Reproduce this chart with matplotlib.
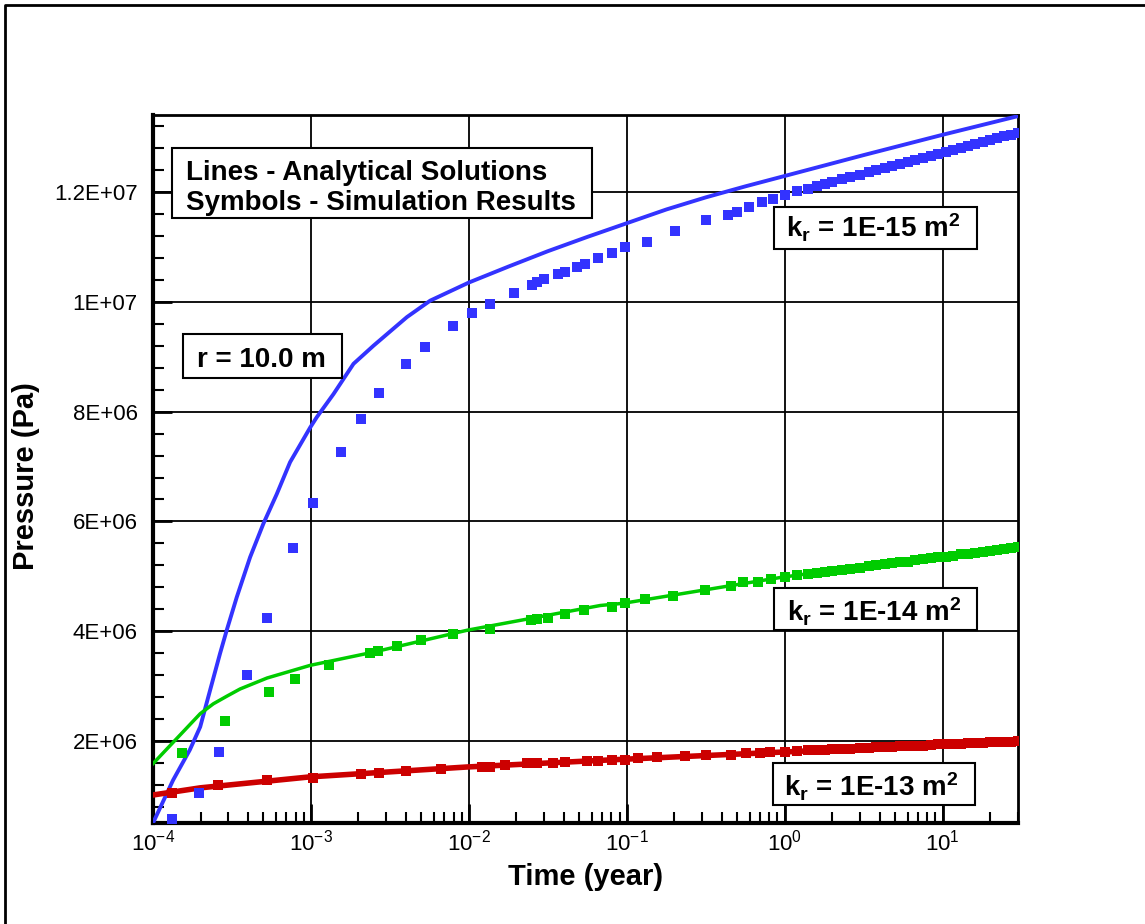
import matplotlib
matplotlib.use("Agg")
import matplotlib.pyplot as plt
from matplotlib.lines import Line2D
from matplotlib.patches import Rectangle
from matplotlib.ticker import LogLocator, MultipleLocator, NullFormatter

plt.rcParams['font.family'] = ['Liberation Sans', 'DejaVu Sans']
plt.rcParams['mathtext.fontset'] = 'custom'
plt.rcParams['mathtext.rm'] = 'Liberation Sans'
plt.rcParams['mathtext.bf'] = 'Liberation Sans:bold'
plt.rcParams['mathtext.default'] = 'regular'

BLUE = '#3333ff'
GREEN = '#00cc00'
RED = '#cc0000'

# analytical solutions (lines)
t_line_15 = [1e-4, 1.34e-4, 1.71e-4, 1.99e-4, 2.30e-4, 2.66e-4, 2.93e-4, 3.39e-4, 4.12e-4,
             5.00e-4, 6.08e-4, 7.38e-4, 9.89e-4, 1.09e-3, 1.39e-3, 1.86e-3, 2.49e-3, 3.03e-3,
             4.05e-3, 5.69e-3, 1e-2, 1.78e-2, 3.16e-2, 5.62e-2, 0.1, 0.178, 0.316, 0.562,
             1.0, 3.16, 10, 30]
p_line_15 = [0.51e6, 1.29e6, 1.84e6, 2.26e6, 2.93e6, 3.60e6, 4.02e6, 4.62e6, 5.35e6,
             5.96e6, 6.50e6, 7.08e6, 7.71e6, 7.90e6, 8.32e6, 8.87e6, 9.20e6, 9.41e6,
             9.72e6, 10.02e6, 10.35e6, 10.64e6, 10.92e6, 11.18e6, 11.43e6, 11.68e6, 11.90e6, 12.10e6,
             12.29e6, 12.67e6, 13.04e6, 13.38e6]

t_line_14 = [1e-4, 1.99e-4, 2.41e-4, 2.94e-4, 3.56e-4, 5.28e-4, 9.89e-4, 2.48e-3, 9.77e-3,
             6.8e-2, 9.5e-2, 0.94, 9.7, 30]
p_line_14 = [1.59e6, 2.50e6, 2.68e6, 2.82e6, 2.95e6, 3.15e6, 3.38e6, 3.62e6, 4.02e6,
             4.47e6, 4.51e6, 4.98e6, 5.38e6, 5.53e6]

t_line_13 = [1e-4, 1.99e-4, 9.89e-4, 9.77e-3, 6.8e-2, 9.5e-2, 0.94, 9.7, 30]
p_line_13 = [1.02e6, 1.15e6, 1.35e6, 1.53e6, 1.65e6, 1.67e6, 1.80e6, 1.93e6, 1.98e6]

# simulation results (symbols)
t_late = [1.0, 1.2, 1.4, 1.6, 1.8, 2.0, 2.3, 2.6, 3.0, 3.4, 3.8, 4.3, 4.8, 5.4, 6.0,
          6.7, 7.5, 8.4, 9.4, 10.5, 11.7, 13, 14.5, 16, 18, 20, 22, 24.5, 27, 30]

t_sim_15 = [1.32e-4, 1.96e-4, 2.62e-4, 3.94e-4, 5.28e-4, 7.71e-4, 1.03e-3, 1.55e-3,
            2.08e-3, 2.70e-3, 4.01e-3, 5.29e-3, 7.97e-3, 1.05e-2, 1.37e-2, 1.94e-2,
            2.52e-2, 2.71e-2, 3.00e-2, 3.69e-2, 4.08e-2, 4.86e-2, 5.47e-2, 6.61e-2,
            8.10e-2, 9.80e-2, 0.135, 0.203, 0.319, 0.440, 0.502, 0.590, 0.723, 0.849] + t_late
p_sim_15 = [0.58e6, 1.05e6, 1.80e6, 3.20e6, 4.24e6, 5.51e6, 6.33e6, 7.27e6,
            7.87e6, 8.33e6, 8.87e6, 9.18e6, 9.55e6, 9.80e6, 9.96e6, 10.16e6,
            10.31e6, 10.36e6, 10.42e6, 10.51e6, 10.55e6, 10.64e6, 10.69e6, 10.80e6,
            10.89e6, 11.00e6, 11.09e6, 11.29e6, 11.49e6, 11.58e6, 11.64e6, 11.73e6, 11.82e6, 11.87e6,
            11.95e6, 12.01e6, 12.06e6, 12.11e6, 12.14e6, 12.18e6, 12.23e6, 12.27e6, 12.31e6, 12.36e6,
            12.39e6, 12.43e6, 12.47e6, 12.51e6, 12.54e6, 12.58e6, 12.62e6, 12.66e6, 12.69e6, 12.73e6,
            12.77e6, 12.80e6, 12.84e6, 12.87e6, 12.91e6, 12.94e6, 12.98e6, 13.01e6, 13.04e6, 13.08e6]

t_sim_14 = [1.53e-4, 2.86e-4, 5.43e-4, 7.94e-4, 1.30e-3, 2.37e-3, 2.67e-3, 3.52e-3,
            4.99e-3, 7.97e-3, 1.37e-2, 2.49e-2, 2.71e-2, 3.18e-2, 4.08e-2, 5.38e-2,
            8.1e-2, 9.8e-2, 0.131, 0.197, 0.315, 0.454, 0.548, 0.682, 0.813] + t_late
p_sim_14 = [1.78e6, 2.36e6, 2.89e6, 3.13e6, 3.38e6, 3.60e6, 3.65e6, 3.73e6,
            3.84e6, 3.95e6, 4.05e6, 4.20e6, 4.22e6, 4.25e6, 4.31e6, 4.38e6,
            4.45e6, 4.51e6, 4.58e6, 4.65e6, 4.75e6, 4.82e6, 4.89e6, 4.89e6, 4.95e6,
            4.99e6, 5.02e6, 5.04e6, 5.06e6, 5.08e6, 5.10e6, 5.12e6, 5.14e6, 5.16e6, 5.18e6,
            5.20e6, 5.22e6, 5.24e6, 5.26e6, 5.27e6, 5.29e6, 5.31e6, 5.33e6, 5.35e6, 5.36e6,
            5.38e6, 5.40e6, 5.41e6, 5.43e6, 5.45e6, 5.47e6, 5.48e6, 5.50e6, 5.51e6, 5.53e6]

t_sim_13 = [1.32e-4, 2.58e-4, 5.28e-4, 1.03e-3, 2.08e-3, 2.70e-3, 4.01e-3, 6.68e-3,
            1.22e-2, 1.37e-2, 1.70e-2, 2.35e-2, 2.71e-2, 3.43e-2, 4.08e-2, 5.62e-2,
            6.55e-2, 8.1e-2, 9.8e-2, 0.117, 0.156, 0.235, 0.319, 0.454, 0.565, 0.70, 0.81] + t_late
p_sim_13 = [1.05e6, 1.20e6, 1.29e6, 1.33e6, 1.40e6, 1.42e6, 1.45e6, 1.49e6,
            1.53e6, 1.53e6, 1.56e6, 1.60e6, 1.60e6, 1.60e6, 1.62e6, 1.64e6,
            1.64e6, 1.65e6, 1.65e6, 1.69e6, 1.71e6, 1.73e6, 1.75e6, 1.75e6, 1.78e6, 1.78e6, 1.80e6,
            1.81e6, 1.82e6, 1.83e6, 1.84e6, 1.84e6, 1.85e6, 1.86e6, 1.86e6, 1.87e6, 1.88e6,
            1.89e6, 1.89e6, 1.90e6, 1.91e6, 1.91e6, 1.92e6, 1.92e6, 1.93e6, 1.94e6, 1.94e6,
            1.95e6, 1.95e6, 1.96e6, 1.97e6, 1.97e6, 1.98e6, 1.98e6, 1.99e6, 1.99e6, 2.00e6]

y_ticks = [2e6, 4e6, 6e6, 8e6, 1e7, 1.2e7]
y_tick_labels = ['2E+06', '4E+06', '6E+06', '8E+06', '1E+07', '1.2E+07']
x_ticks = [1e-4, 1e-3, 1e-2, 1e-1, 1e0, 1e1]
x_tick_labels = ['$10^{-4}$', '$10^{-3}$', '$10^{-2}$', '$10^{-1}$', '$10^{0}$', '$10^{1}$']

fig = plt.figure(figsize=(11.45, 9.24), dpi=100)
ax = fig.add_axes([153/1145, 1-823/924, 865/1145, 708/924])

ax.set_xscale('log')
ax.set_xlim(1e-4, 30)
ax.set_ylim(0.51e6, 1.34e7)

ax.plot(t_line_15, p_line_15, color=BLUE, lw=2.8, zorder=3)
ax.plot(t_line_14, p_line_14, color=GREEN, lw=2.5, zorder=3)
ax.plot(t_line_13, p_line_13, color=RED, lw=4, zorder=3)

ms = 6.5
ax.plot(t_sim_15, p_sim_15, 's', color=BLUE, ms=ms, mew=0, zorder=4)
ax.plot(t_sim_14, p_sim_14, 's', color=GREEN, ms=ms, mew=0, zorder=4)
ax.plot(t_sim_13, p_sim_13, 's', color=RED, ms=ms, mew=0, zorder=4)

ax.set_xticks(x_ticks)
ax.set_xticklabels(x_tick_labels)
ax.xaxis.set_minor_locator(LogLocator(base=10, subs=[2, 3, 4, 5, 6, 7, 8, 9], numticks=20))
ax.xaxis.set_minor_formatter(NullFormatter())
ax.set_yticks(y_ticks)
ax.set_yticklabels(y_tick_labels)
ax.yaxis.set_minor_locator(MultipleLocator(4e5))

ax.tick_params(which='major', direction='in', length=14, width=2, color='black')
ax.tick_params(axis='x', which='major', labelsize=16, pad=5)
ax.tick_params(axis='y', which='major', labelsize=16, pad=11)
ax.tick_params(which='minor', direction='in', length=8, width=1.5)

ax.grid(True, which='major', color='black', lw=1.3)
ax.set_axisbelow(True)
for side in ['left', 'bottom']:
    ax.spines[side].set_linewidth(3)
for side in ['top', 'right']:
    ax.spines[side].set_linewidth(2)

ax.set_xlabel('Time (year)', fontsize=21, fontweight='bold', labelpad=5)
ax.set_ylabel('Pressure (Pa)', fontsize=21, fontweight='bold')
ax.yaxis.set_label_coords(-0.131, 0.49)


def label_box(x0, y0, x1, y1):
    ax.add_patch(Rectangle((x0, y0), x1 - x0, y1 - y0, transform=ax.transAxes,
                           facecolor='white', edgecolor='black', lw=1.5, zorder=6))


def label_text(x, y, s):
    ax.text(x, y, s, transform=ax.transAxes, ha='left', va='baseline',
            fontsize=20, fontweight='bold', zorder=7)


label_box(0.0220, 0.8545, 0.5075, 0.9534)
label_text(0.0382, 0.9082, 'Lines - Analytical Solutions')
label_text(0.0382, 0.8658, 'Symbols - Simulation Results')

label_box(0.0347, 0.6285, 0.2185, 0.6907)
label_text(0.0509, 0.644, 'r = 10.0 m')

label_box(0.7179, 0.8107, 0.9526, 0.8701)
label_text(0.7318, 0.8263, r'k$_\mathbf{r}$ = 1E-15 m$^\mathbf{2}$')

label_box(0.7179, 0.2726, 0.9526, 0.3319)
label_text(0.7330, 0.2839, r'k$_\mathbf{r}$ = 1E-14 m$^\mathbf{2}$')

label_box(0.7168, 0.0254, 0.9503, 0.0847)
label_text(0.7295, 0.0381, r'k$_\mathbf{r}$ = 1E-13 m$^\mathbf{2}$')

# outer frame (top and left edges)
fig.add_artist(Line2D([5/1145, 5/1145, 1], [0, 1-5/924, 1-5/924],
                      transform=fig.transFigure, color='black', lw=2))

fig.savefig('out.png', dpi=100)
